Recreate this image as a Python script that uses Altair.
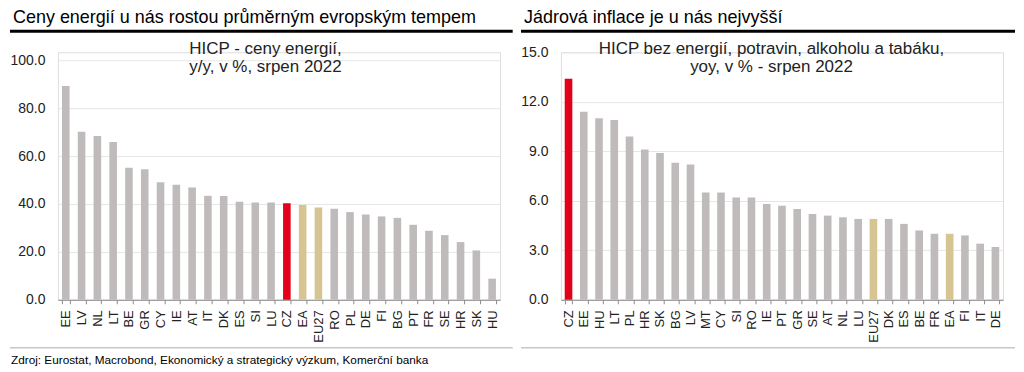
import altair as alt
import pandas as pd

# ---------------- data ----------------
left_countries = ["EE", "LV", "NL", "LT", "BE", "GR", "CY", "IE", "AT", "IT", "DK", "ES", "SI", "LU",
                  "CZ", "EA", "EU27", "RO", "PL", "DE", "FI", "BG", "PT", "FR", "SE", "HR", "SK", "HU"]
left_values = [89.3, 70.2, 68.4, 65.9, 55.1, 54.5, 49.1, 48.0, 46.9, 43.4, 43.3, 40.9, 40.6, 40.6,
               40.3, 39.6, 38.5, 38.0, 36.6, 35.6, 34.8, 34.2, 31.3, 28.8, 27.0, 24.1, 20.6, 8.8]

right_countries = ["CZ", "EE", "HU", "LT", "PL", "HR", "SK", "BG", "LV", "MT", "CY", "SI", "RO", "IE",
                   "PT", "GR", "SE", "AT", "NL", "LU", "EU27", "DK", "ES", "BE", "FR", "EA", "FI", "IT", "DE"]
right_values = [13.4, 11.4, 11.0, 10.9, 9.9, 9.1, 8.9, 8.3, 8.2, 6.5, 6.5, 6.2, 6.2, 5.8,
                5.7, 5.5, 5.2, 5.1, 5.0, 4.9, 4.9, 4.9, 4.6, 4.2, 4.0, 4.0, 3.9, 3.4, 3.2]

left_ticks = [0, 20, 40, 60, 80, 100]
right_ticks = [0, 3, 6, 9, 12, 15]

left_title = "Ceny energií u nás rostou průměrným evropským tempem"
left_sub = ["HICP - ceny energií,", "y/y, v %, srpen 2022"]
right_title = "Jádrová inflace je u nás nejvyšší"
right_sub = ["HICP bez energií, potravin, alkoholu a tabáku,", "yoy, v % - srpen 2022"]
source_text = "Zdroj: Eurostat, Macrobond, Ekonomický a strategický výzkum, Komerční banka"

highlight = ["CZ"]
aggregates = ["EA", "EU27"]

FONT = "Liberation Sans"
W, H = 443, 248


def group_of(c):
    if c in highlight:
        return "cz"
    if c in aggregates:
        return "agg"
    return "other"


def panel(countries, values, ymax, ticks, title, sub, title_x, line_x0, line_x1, sub_x, pinner, source=None):
    df = pd.DataFrame({"country": countries, "value": values,
                       "group": [group_of(c) for c in countries]})
    bars = alt.Chart(df).mark_bar().encode(
        x=alt.X("country:N", sort=None, title=None,
                scale=alt.Scale(paddingInner=pinner, paddingOuter=pinner / 2),
                axis=alt.Axis(labelAngle=-90, tickBand="extent", grid=False,
                              domainColor="#8c8c8c", tickColor="#8c8c8c", tickSize=4,
                              labelPadding=6, labelFontSize=13, labelColor="#222222",
                              labelFont=FONT)),
        y=alt.Y("value:Q", title=None,
                scale=alt.Scale(domain=[0, ymax], nice=False, zero=True),
                axis=alt.Axis(values=ticks, format=".1f", domain=False, ticks=False,
                              labelPadding=13, labelFontSize=14, labelColor="#222222",
                              labelFont=FONT, gridColor="#e6e6e6", gridWidth=1)),
        color=alt.Color("group:N", legend=None,
                        scale=alt.Scale(domain=["cz", "agg", "other"],
                                        range=["#e2001a", "#d6c493", "#bfbbbb"])),
    )
    one = pd.DataFrame({"k": [0]})
    title_layer = alt.Chart(pd.DataFrame({"t": [title]})).mark_text(
        align="left", baseline="alphabetic", fontSize=18, font=FONT, color="#000000"
    ).encode(x=alt.value(title_x), y=alt.value(-29), text="t:N")
    thick = alt.Chart(one).mark_rect(color="#000000").encode(
        x=alt.value(line_x0), x2=alt.value(line_x1), y=alt.value(-22.5), y2=alt.value(-19.5))
    thin = alt.Chart(one).mark_rect(color="#c8c8c8").encode(
        x=alt.value(line_x0), x2=alt.value(line_x1), y=alt.value(295.3), y2=alt.value(296.8))
    sub1 = alt.Chart(pd.DataFrame({"t": [sub[0]]})).mark_text(
        align="center", baseline="alphabetic", fontSize=17, font=FONT, color="#222222"
    ).encode(x=alt.value(sub_x), y=alt.value(2), text="t:N")
    sub2 = alt.Chart(pd.DataFrame({"t": [sub[1]]})).mark_text(
        align="center", baseline="alphabetic", fontSize=17, font=FONT, color="#222222"
    ).encode(x=alt.value(sub_x), y=alt.value(20), text="t:N")
    layers = [bars, title_layer, thick, thin, sub1, sub2]
    if source:
        src = alt.Chart(pd.DataFrame({"t": [source]})).mark_text(
            align="left", baseline="alphabetic", fontSize=11.8, font=FONT, color="#000000"
        ).encode(x=alt.value(-47), y=alt.value(312), text="t:N")
        layers.append(src)
    return alt.layer(*layers).properties(width=W, height=H)


left = panel(left_countries, left_values, 103.33, left_ticks, left_title, left_sub,
             -45, -48, 455.7, 208, 0.52, source=source_text)
right = panel(right_countries, right_values, 15, right_ticks, right_title, right_sub,
              -37, -40, 455, 211, 0.5)

chart = alt.hconcat(left, right, spacing=6).properties(
    padding={"left": 1, "top": 0, "right": 0, "bottom": 0}
).configure_view(stroke=None).configure(font=FONT)

chart.save("out.html", embed_options={"renderer": "svg", "actions": False})
